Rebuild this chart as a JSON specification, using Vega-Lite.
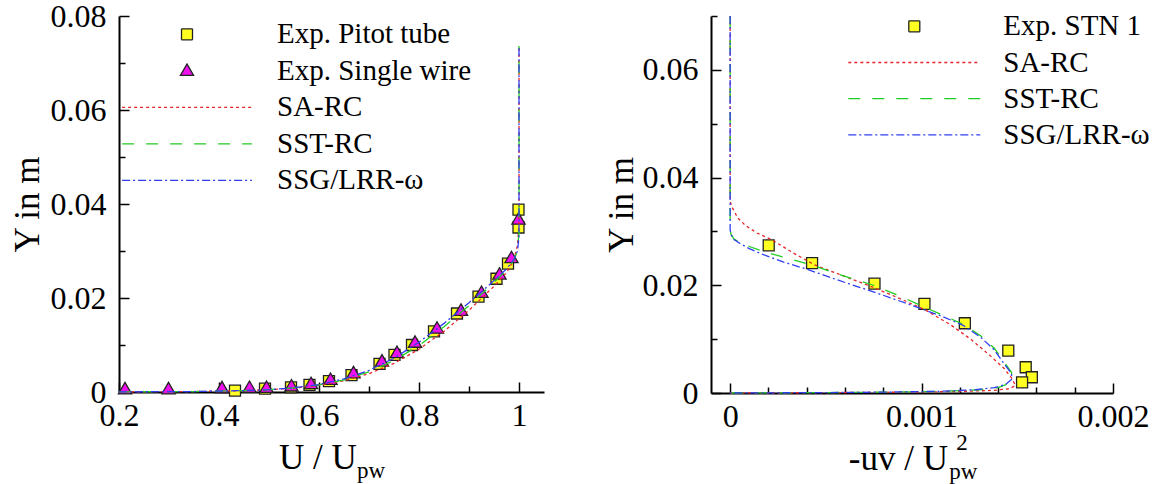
{
  "$schema": "https://vega.github.io/schema/vega-lite/v6.json",
  "background": "white",
  "padding": {"left": 10, "top": 0, "right": 5, "bottom": 0},
  "config": {
    "view": {"stroke": null},
    "axis": {
      "grid": false, "domainColor": "black", "domainWidth": 2, "tickColor": "black", "tickWidth": 1.5,
      "labelFlush": false, "labelOverlap": false, "labelBound": false,
      "labelFont": "Liberation Serif", "labelFontSize": 32, "labelColor": "black",
      "titleFont": "Liberation Serif", "titleFontSize": 35, "titleFontWeight": "normal", "titleColor": "black"
    }
  },
  "datasets": {
    "leftExp": [
      {"series": "Exp. Pitot tube", "u": 0.432, "y": 0.0003},
      {"series": "Exp. Pitot tube", "u": 0.492, "y": 0.0007},
      {"series": "Exp. Pitot tube", "u": 0.544, "y": 0.0010},
      {"series": "Exp. Pitot tube", "u": 0.581, "y": 0.0015},
      {"series": "Exp. Pitot tube", "u": 0.620, "y": 0.0023},
      {"series": "Exp. Pitot tube", "u": 0.665, "y": 0.0036},
      {"series": "Exp. Pitot tube", "u": 0.721, "y": 0.0060},
      {"series": "Exp. Pitot tube", "u": 0.751, "y": 0.0079},
      {"series": "Exp. Pitot tube", "u": 0.786, "y": 0.0100},
      {"series": "Exp. Pitot tube", "u": 0.830, "y": 0.0129},
      {"series": "Exp. Pitot tube", "u": 0.876, "y": 0.0167},
      {"series": "Exp. Pitot tube", "u": 0.919, "y": 0.0203},
      {"series": "Exp. Pitot tube", "u": 0.955, "y": 0.0241},
      {"series": "Exp. Pitot tube", "u": 0.978, "y": 0.0273},
      {"series": "Exp. Pitot tube", "u": 0.999, "y": 0.0350},
      {"series": "Exp. Pitot tube", "u": 0.999, "y": 0.0388},
      {"series": "Exp. Single wire", "u": 0.212, "y": 0.0006},
      {"series": "Exp. Single wire", "u": 0.299, "y": 0.0006},
      {"series": "Exp. Single wire", "u": 0.406, "y": 0.0008},
      {"series": "Exp. Single wire", "u": 0.461, "y": 0.0009},
      {"series": "Exp. Single wire", "u": 0.495, "y": 0.0009},
      {"series": "Exp. Single wire", "u": 0.545, "y": 0.0012},
      {"series": "Exp. Single wire", "u": 0.584, "y": 0.0017},
      {"series": "Exp. Single wire", "u": 0.623, "y": 0.0026},
      {"series": "Exp. Single wire", "u": 0.669, "y": 0.0040},
      {"series": "Exp. Single wire", "u": 0.726, "y": 0.0065},
      {"series": "Exp. Single wire", "u": 0.756, "y": 0.0083},
      {"series": "Exp. Single wire", "u": 0.792, "y": 0.0105},
      {"series": "Exp. Single wire", "u": 0.836, "y": 0.0135},
      {"series": "Exp. Single wire", "u": 0.884, "y": 0.0173},
      {"series": "Exp. Single wire", "u": 0.925, "y": 0.0211},
      {"series": "Exp. Single wire", "u": 0.961, "y": 0.0250},
      {"series": "Exp. Single wire", "u": 0.985, "y": 0.0285},
      {"series": "Exp. Single wire", "u": 0.999, "y": 0.0367}
    ],
    "leftCFD": [
      {"series": "SA-RC", "i": 0, "u": 0.2, "y": 0.00003},
      {"series": "SA-RC", "i": 1, "u": 0.35, "y": 0.0001},
      {"series": "SA-RC", "i": 2, "u": 0.45, "y": 0.0003},
      {"series": "SA-RC", "i": 3, "u": 0.5, "y": 0.0005},
      {"series": "SA-RC", "i": 4, "u": 0.55, "y": 0.0008},
      {"series": "SA-RC", "i": 5, "u": 0.6, "y": 0.0014},
      {"series": "SA-RC", "i": 6, "u": 0.65, "y": 0.0024},
      {"series": "SA-RC", "i": 7, "u": 0.7, "y": 0.0039},
      {"series": "SA-RC", "i": 8, "u": 0.75, "y": 0.0061},
      {"series": "SA-RC", "i": 9, "u": 0.8, "y": 0.0091},
      {"series": "SA-RC", "i": 10, "u": 0.85, "y": 0.0129},
      {"series": "SA-RC", "i": 11, "u": 0.9, "y": 0.0174},
      {"series": "SA-RC", "i": 12, "u": 0.95, "y": 0.0225},
      {"series": "SA-RC", "i": 13, "u": 0.975, "y": 0.0254},
      {"series": "SA-RC", "i": 14, "u": 0.99, "y": 0.0282},
      {"series": "SA-RC", "i": 15, "u": 0.997, "y": 0.0312},
      {"series": "SA-RC", "i": 16, "u": 1.0, "y": 0.0360},
      {"series": "SA-RC", "i": 17, "u": 1.0, "y": 0.0736},
      {"series": "SST-RC", "i": 0, "u": 0.2, "y": 0.00003},
      {"series": "SST-RC", "i": 1, "u": 0.35, "y": 0.0001},
      {"series": "SST-RC", "i": 2, "u": 0.45, "y": 0.0003},
      {"series": "SST-RC", "i": 3, "u": 0.5, "y": 0.0005},
      {"series": "SST-RC", "i": 4, "u": 0.55, "y": 0.0009},
      {"series": "SST-RC", "i": 5, "u": 0.6, "y": 0.0015},
      {"series": "SST-RC", "i": 6, "u": 0.65, "y": 0.0026},
      {"series": "SST-RC", "i": 7, "u": 0.7, "y": 0.0043},
      {"series": "SST-RC", "i": 8, "u": 0.75, "y": 0.0067},
      {"series": "SST-RC", "i": 9, "u": 0.8, "y": 0.0099},
      {"series": "SST-RC", "i": 10, "u": 0.85, "y": 0.0139},
      {"series": "SST-RC", "i": 11, "u": 0.9, "y": 0.0184},
      {"series": "SST-RC", "i": 12, "u": 0.95, "y": 0.0233},
      {"series": "SST-RC", "i": 13, "u": 0.975, "y": 0.0260},
      {"series": "SST-RC", "i": 14, "u": 0.99, "y": 0.0281},
      {"series": "SST-RC", "i": 15, "u": 0.997, "y": 0.0300},
      {"series": "SST-RC", "i": 16, "u": 1.0, "y": 0.0340},
      {"series": "SST-RC", "i": 17, "u": 1.0, "y": 0.0736},
      {"series": "SSG/LRR-ω", "i": 0, "u": 0.2, "y": 0.00003},
      {"series": "SSG/LRR-ω", "i": 1, "u": 0.35, "y": 0.0001},
      {"series": "SSG/LRR-ω", "i": 2, "u": 0.45, "y": 0.0003},
      {"series": "SSG/LRR-ω", "i": 3, "u": 0.5, "y": 0.0005},
      {"series": "SSG/LRR-ω", "i": 4, "u": 0.55, "y": 0.0009},
      {"series": "SSG/LRR-ω", "i": 5, "u": 0.6, "y": 0.0016},
      {"series": "SSG/LRR-ω", "i": 6, "u": 0.65, "y": 0.0028},
      {"series": "SSG/LRR-ω", "i": 7, "u": 0.7, "y": 0.0046},
      {"series": "SSG/LRR-ω", "i": 8, "u": 0.75, "y": 0.0072},
      {"series": "SSG/LRR-ω", "i": 9, "u": 0.8, "y": 0.0106},
      {"series": "SSG/LRR-ω", "i": 10, "u": 0.85, "y": 0.0146},
      {"series": "SSG/LRR-ω", "i": 11, "u": 0.9, "y": 0.0190},
      {"series": "SSG/LRR-ω", "i": 12, "u": 0.95, "y": 0.0237},
      {"series": "SSG/LRR-ω", "i": 13, "u": 0.975, "y": 0.0262},
      {"series": "SSG/LRR-ω", "i": 14, "u": 0.99, "y": 0.0282},
      {"series": "SSG/LRR-ω", "i": 15, "u": 0.997, "y": 0.0300},
      {"series": "SSG/LRR-ω", "i": 16, "u": 1.0, "y": 0.0330},
      {"series": "SSG/LRR-ω", "i": 17, "u": 1.0, "y": 0.0736}
    ],
    "rightExp": [
      {"series": "Exp. STN 1", "uv": 0.0002015, "y": 0.0274},
      {"series": "Exp. STN 1", "uv": 0.000428, "y": 0.0241},
      {"series": "Exp. STN 1", "uv": 0.000754, "y": 0.0203},
      {"series": "Exp. STN 1", "uv": 0.001015, "y": 0.01654},
      {"series": "Exp. STN 1", "uv": 0.001226, "y": 0.01295},
      {"series": "Exp. STN 1", "uv": 0.001453, "y": 0.00788},
      {"series": "Exp. STN 1", "uv": 0.001544, "y": 0.00478},
      {"series": "Exp. STN 1", "uv": 0.001576, "y": 0.00292},
      {"series": "Exp. STN 1", "uv": 0.001525, "y": 0.00199}
    ],
    "rightCFD": [
      {"series": "SA-RC", "i": 0, "uv": 0, "y": 0.07},
      {"series": "SA-RC", "i": 1, "uv": 0, "y": 0.0356},
      {"series": "SA-RC", "i": 2, "uv": 0.00001, "y": 0.0345},
      {"series": "SA-RC", "i": 3, "uv": 0.00004, "y": 0.0325},
      {"series": "SA-RC", "i": 4, "uv": 0.00008, "y": 0.0311},
      {"series": "SA-RC", "i": 5, "uv": 0.00014, "y": 0.0297},
      {"series": "SA-RC", "i": 6, "uv": 0.00022, "y": 0.0284},
      {"series": "SA-RC", "i": 7, "uv": 0.00033, "y": 0.0260},
      {"series": "SA-RC", "i": 8, "uv": 0.00044, "y": 0.0238},
      {"series": "SA-RC", "i": 9, "uv": 0.00058, "y": 0.0219},
      {"series": "SA-RC", "i": 10, "uv": 0.00072, "y": 0.0200},
      {"series": "SA-RC", "i": 11, "uv": 0.00087, "y": 0.0178},
      {"series": "SA-RC", "i": 12, "uv": 0.00102, "y": 0.0154},
      {"series": "SA-RC", "i": 13, "uv": 0.00115, "y": 0.0127},
      {"series": "SA-RC", "i": 14, "uv": 0.00126, "y": 0.0099},
      {"series": "SA-RC", "i": 15, "uv": 0.00135, "y": 0.0072},
      {"series": "SA-RC", "i": 16, "uv": 0.00143, "y": 0.0046},
      {"series": "SA-RC", "i": 17, "uv": 0.00147, "y": 0.0028},
      {"series": "SA-RC", "i": 18, "uv": 0.00149, "y": 0.0014},
      {"series": "SA-RC", "i": 19, "uv": 0.00146, "y": 0.0008},
      {"series": "SA-RC", "i": 20, "uv": 0.00138, "y": 0.0005},
      {"series": "SA-RC", "i": 21, "uv": 0.0012, "y": 0.00028},
      {"series": "SA-RC", "i": 22, "uv": 0.00095, "y": 0.00016},
      {"series": "SA-RC", "i": 23, "uv": 0.0006, "y": 0.00009},
      {"series": "SA-RC", "i": 24, "uv": 0.0003, "y": 0.00004},
      {"series": "SA-RC", "i": 25, "uv": 0, "y": 0},
      {"series": "SST-RC", "i": 0, "uv": 0, "y": 0.07},
      {"series": "SST-RC", "i": 1, "uv": 0, "y": 0.0303},
      {"series": "SST-RC", "i": 2, "uv": 0.000005, "y": 0.0294},
      {"series": "SST-RC", "i": 3, "uv": 0.00002, "y": 0.0286},
      {"series": "SST-RC", "i": 4, "uv": 0.00005, "y": 0.0280},
      {"series": "SST-RC", "i": 5, "uv": 0.0001, "y": 0.0272},
      {"series": "SST-RC", "i": 6, "uv": 0.00018, "y": 0.0262},
      {"series": "SST-RC", "i": 7, "uv": 0.0003, "y": 0.0250},
      {"series": "SST-RC", "i": 8, "uv": 0.00043, "y": 0.0237},
      {"series": "SST-RC", "i": 9, "uv": 0.00058, "y": 0.0219},
      {"series": "SST-RC", "i": 10, "uv": 0.00074, "y": 0.0201},
      {"series": "SST-RC", "i": 11, "uv": 0.00088, "y": 0.0181},
      {"series": "SST-RC", "i": 12, "uv": 0.001, "y": 0.0162},
      {"series": "SST-RC", "i": 13, "uv": 0.00112, "y": 0.0143},
      {"series": "SST-RC", "i": 14, "uv": 0.00122, "y": 0.0127},
      {"series": "SST-RC", "i": 15, "uv": 0.00131, "y": 0.0106},
      {"series": "SST-RC", "i": 16, "uv": 0.00138, "y": 0.0083},
      {"series": "SST-RC", "i": 17, "uv": 0.00143, "y": 0.0058},
      {"series": "SST-RC", "i": 18, "uv": 0.00147, "y": 0.0038},
      {"series": "SST-RC", "i": 19, "uv": 0.00147, "y": 0.0026},
      {"series": "SST-RC", "i": 20, "uv": 0.00145, "y": 0.0017},
      {"series": "SST-RC", "i": 21, "uv": 0.0014, "y": 0.0010},
      {"series": "SST-RC", "i": 22, "uv": 0.0013, "y": 0.0006},
      {"series": "SST-RC", "i": 23, "uv": 0.0011, "y": 0.0003},
      {"series": "SST-RC", "i": 24, "uv": 0.0008, "y": 0.00015},
      {"series": "SST-RC", "i": 25, "uv": 0.0005, "y": 0.00007},
      {"series": "SST-RC", "i": 26, "uv": 0.0002, "y": 0.00003},
      {"series": "SST-RC", "i": 27, "uv": 0, "y": 0},
      {"series": "SSG/LRR-ω", "i": 0, "uv": 0, "y": 0.07},
      {"series": "SSG/LRR-ω", "i": 1, "uv": 0, "y": 0.0303},
      {"series": "SSG/LRR-ω", "i": 2, "uv": 0.000005, "y": 0.0294},
      {"series": "SSG/LRR-ω", "i": 3, "uv": 0.00002, "y": 0.0285},
      {"series": "SSG/LRR-ω", "i": 4, "uv": 0.00005, "y": 0.0278},
      {"series": "SSG/LRR-ω", "i": 5, "uv": 0.0001, "y": 0.0268},
      {"series": "SSG/LRR-ω", "i": 6, "uv": 0.000165, "y": 0.0258},
      {"series": "SSG/LRR-ω", "i": 7, "uv": 0.00028, "y": 0.0243},
      {"series": "SSG/LRR-ω", "i": 8, "uv": 0.0004, "y": 0.0230},
      {"series": "SSG/LRR-ω", "i": 9, "uv": 0.00056, "y": 0.0210},
      {"series": "SSG/LRR-ω", "i": 10, "uv": 0.00073, "y": 0.0190},
      {"series": "SSG/LRR-ω", "i": 11, "uv": 0.00086, "y": 0.0174},
      {"series": "SSG/LRR-ω", "i": 12, "uv": 0.00098, "y": 0.0159},
      {"series": "SSG/LRR-ω", "i": 13, "uv": 0.00111, "y": 0.0142},
      {"series": "SSG/LRR-ω", "i": 14, "uv": 0.00122, "y": 0.0125},
      {"series": "SSG/LRR-ω", "i": 15, "uv": 0.00131, "y": 0.0103},
      {"series": "SSG/LRR-ω", "i": 16, "uv": 0.00138, "y": 0.0080},
      {"series": "SSG/LRR-ω", "i": 17, "uv": 0.00143, "y": 0.0055},
      {"series": "SSG/LRR-ω", "i": 18, "uv": 0.00147, "y": 0.0036},
      {"series": "SSG/LRR-ω", "i": 19, "uv": 0.00147, "y": 0.0025},
      {"series": "SSG/LRR-ω", "i": 20, "uv": 0.00144, "y": 0.0016},
      {"series": "SSG/LRR-ω", "i": 21, "uv": 0.00138, "y": 0.0010},
      {"series": "SSG/LRR-ω", "i": 22, "uv": 0.00128, "y": 0.0006},
      {"series": "SSG/LRR-ω", "i": 23, "uv": 0.0011, "y": 0.00032},
      {"series": "SSG/LRR-ω", "i": 24, "uv": 0.0008, "y": 0.00016},
      {"series": "SSG/LRR-ω", "i": 25, "uv": 0.0005, "y": 0.00008},
      {"series": "SSG/LRR-ω", "i": 26, "uv": 0.0002, "y": 0.00003},
      {"series": "SSG/LRR-ω", "i": 27, "uv": 0, "y": 0}
    ]
  },
  "spacing": 60,
  "resolve": {"scale": {"fill": "independent", "stroke": "independent", "shape": "independent", "strokeDash": "independent"}},
  "hconcat": [
    {
      "width": 425,
      "height": 376,
      "layer": [
        {
          "data": {"name": "leftExp"},
          "mark": {"type": "point", "opacity": 1, "size": 121, "strokeWidth": 1.3},
          "encoding": {
            "x": {"field": "u", "type": "quantitative", "scale": {"domain": [0.2, 1.05], "nice": false, "zero": false},
              "axis": {
                "values": [0.2, 0.25, 0.3, 0.35, 0.4, 0.45, 0.5, 0.55, 0.6, 0.65, 0.7, 0.75, 0.8, 0.85, 0.9, 0.95, 1, 1.05],
                "format": "~g",
                "labelExpr": "abs(datum.value*5-round(datum.value*5))<1e-6 ? datum.label : ''",
                "tickSize": {"condition": {"test": "abs(datum.value*5-round(datum.value*5))<1e-6", "value": -10}, "value": -6},
                "labelPadding": 18,
                "title": "U / U", "titleAlign": "left", "titleX": 159.5, "titlePadding": 5.7,
                "encode": {"labels": {"update": {"font": {"value": "Liberation Serif"}}}, "title": {"update": {"font": {"value": "Liberation Serif"}}}}
              }},
            "y": {"field": "y", "type": "quantitative", "scale": {"domain": [0, 0.08], "nice": false},
              "axis": {
                "values": [0, 0.005, 0.01, 0.015, 0.02, 0.025, 0.03, 0.035, 0.04, 0.045, 0.05, 0.055, 0.06, 0.065, 0.07, 0.075, 0.08],
                "format": "~g",
                "labelExpr": "abs(datum.value*50-round(datum.value*50))<1e-6 ? datum.label : ''",
                "tickSize": {"condition": {"test": "abs(datum.value*50-round(datum.value*50))<1e-6", "value": -10}, "value": -6},
                "labelPadding": 23,
                "title": "Y in m", "titlePadding": 5,
                "encode": {"labels": {"update": {"font": {"value": "Liberation Serif"}}}, "title": {"update": {"font": {"value": "Liberation Serif"}}}}
              }},
            "fill": {"field": "series", "type": "nominal",
              "scale": {"domain": ["Exp. Pitot tube", "Exp. Single wire", "SA-RC", "SST-RC", "SSG/LRR-ω"], "range": ["#ffff22", "#ee11ee", "transparent", "transparent", "transparent"]},
              "legend": {"title": null, "orient": "none", "legendX": 53.5, "legendY": 3.8, "padding": 0, "symbolSize": 121, "symbolStrokeWidth": 1.3, "symbolFillColor": "transparent", "labelFont": "Liberation Serif", "labelFontSize": 29, "labelColor": "black", "labelOffset": 75.5, "rowPadding": 6.5, "labelLimit": 400}},
            "shape": {"field": "series", "type": "nominal",
              "scale": {"domain": ["Exp. Pitot tube", "Exp. Single wire", "SA-RC", "SST-RC", "SSG/LRR-ω"], "range": ["M-1,-1H1V1H-1Z", "M0,-1.24L1.2,0.84L-1.2,0.84Z", "M-11.8,0H11.8", "M-11.8,0H11.8", "M-11.8,0H11.8"]},
              "legend": {"title": null, "orient": "none", "legendX": 53.5, "legendY": 3.8, "padding": 0, "symbolSize": 121, "symbolStrokeWidth": 1.3, "symbolFillColor": "transparent", "labelFont": "Liberation Serif", "labelFontSize": 29, "labelColor": "black", "labelOffset": 75.5, "rowPadding": 6.5, "labelLimit": 400}},
            "stroke": {"field": "series", "type": "nominal",
              "scale": {"domain": ["Exp. Pitot tube", "Exp. Single wire", "SA-RC", "SST-RC", "SSG/LRR-ω"], "range": ["#222222", "#222222", "#e8262a", "#22cc22", "#2f3fef"]},
              "legend": {"title": null, "orient": "none", "legendX": 53.5, "legendY": 3.8, "padding": 0, "symbolSize": 121, "symbolStrokeWidth": 1.3, "symbolFillColor": "transparent", "labelFont": "Liberation Serif", "labelFontSize": 29, "labelColor": "black", "labelOffset": 75.5, "rowPadding": 6.5, "labelLimit": 400}}
          }
        },
        {
          "data": {"name": "leftCFD"},
          "mark": {"type": "line", "strokeWidth": 1.3},
          "encoding": {
            "x": {"field": "u", "type": "quantitative"},
            "y": {"field": "y", "type": "quantitative"},
            "order": {"field": "i", "type": "quantitative"},
            "stroke": {"field": "series", "type": "nominal",
              "scale": {"domain": ["Exp. Pitot tube", "Exp. Single wire", "SA-RC", "SST-RC", "SSG/LRR-ω"], "range": ["#222222", "#222222", "#e8262a", "#22cc22", "#2f3fef"]},
              "legend": {"title": null, "orient": "none", "legendX": 53.5, "legendY": 3.8, "padding": 0, "symbolSize": 121, "symbolStrokeWidth": 1.3, "symbolFillColor": "transparent", "labelFont": "Liberation Serif", "labelFontSize": 29, "labelColor": "black", "labelOffset": 75.5, "rowPadding": 6.5, "labelLimit": 400}},
            "strokeDash": {"field": "series", "type": "nominal",
              "scale": {"domain": ["Exp. Pitot tube", "Exp. Single wire", "SA-RC", "SST-RC", "SSG/LRR-ω"], "range": [[1, 0], [1, 0], [3, 3], [12, 12], [8, 3, 2, 3]]},
              "legend": {"title": null, "orient": "none", "legendX": 53.5, "legendY": 3.8, "padding": 0, "symbolSize": 121, "symbolStrokeWidth": 1.3, "symbolFillColor": "transparent", "labelFont": "Liberation Serif", "labelFontSize": 29, "labelColor": "black", "labelOffset": 75.5, "rowPadding": 6.5, "labelLimit": 400}}
          }
        },
        {
          "data": {"values": [{"sub": "pw"}]},
          "mark": {"type": "text", "font": "Liberation Serif", "fontSize": 23, "align": "left", "baseline": "alphabetic", "color": "black"},
          "encoding": {
            "x": {"datum": 0.676, "type": "quantitative"},
            "y": {"datum": -0.01836, "type": "quantitative"},
            "text": {"field": "sub"}
          }
        }
      ]
    },
    {
      "width": 402,
      "height": 377,
      "layer": [
        {
          "data": {"name": "rightExp"},
          "mark": {"type": "point", "opacity": 1, "size": 121, "strokeWidth": 1.3},
          "encoding": {
            "x": {"field": "uv", "type": "quantitative", "scale": {"domain": [-0.0001, 0.002], "nice": false, "zero": false},
              "axis": {
                "values": [0, 0.0002, 0.0004, 0.0006, 0.0008, 0.001, 0.0012, 0.0014, 0.0016, 0.0018, 0.002],
                "format": "~g",
                "labelExpr": "abs(datum.value*1000-round(datum.value*1000))<1e-6 ? datum.label : ''",
                "tickSize": {"condition": {"test": "abs(datum.value*1000-round(datum.value*1000))<1e-6", "value": -10}, "value": -6},
                "labelPadding": 18,
                "title": "-uv / U", "titleAlign": "left", "titleX": 137.3, "titlePadding": 5.7,
                "encode": {"labels": {"update": {"font": {"value": "Liberation Serif"}}}, "title": {"update": {"font": {"value": "Liberation Serif"}}}}
              }},
            "y": {"field": "y", "type": "quantitative", "scale": {"domain": [0, 0.07], "nice": false},
              "axis": {
                "values": [0, 0.005, 0.01, 0.015, 0.02, 0.025, 0.03, 0.035, 0.04, 0.045, 0.05, 0.055, 0.06, 0.065, 0.07],
                "format": "~g",
                "labelExpr": "abs(datum.value*50-round(datum.value*50))<1e-6 ? datum.label : ''",
                "tickSize": {"condition": {"test": "abs(datum.value*50-round(datum.value*50))<1e-6", "value": -10}, "value": -6},
                "labelPadding": 23,
                "title": "Y in m", "titlePadding": 3,
                "encode": {"labels": {"update": {"font": {"value": "Liberation Serif"}}}, "title": {"update": {"font": {"value": "Liberation Serif"}}}}
              }},
            "fill": {"field": "series", "type": "nominal",
              "scale": {"domain": ["Exp. STN 1", "SA-RC", "SST-RC", "SSG/LRR-ω"], "range": ["#ffff22", "transparent", "transparent", "transparent"]},
              "legend": {"title": null, "orient": "none", "legendX": 188.8, "legendY": -4.2, "padding": 0, "symbolSize": 121, "symbolStrokeWidth": 1.3, "symbolFillColor": "transparent", "labelFont": "Liberation Serif", "labelFontSize": 29, "labelColor": "black", "labelOffset": 74.5, "rowPadding": 6.2, "labelLimit": 400}},
            "shape": {"field": "series", "type": "nominal",
              "scale": {"domain": ["Exp. STN 1", "SA-RC", "SST-RC", "SSG/LRR-ω"], "range": ["M-1,-1H1V1H-1Z", "M-12,0H12", "M-12,0H12", "M-12,0H12"]},
              "legend": {"title": null, "orient": "none", "legendX": 188.8, "legendY": -4.2, "padding": 0, "symbolSize": 121, "symbolStrokeWidth": 1.3, "symbolFillColor": "transparent", "labelFont": "Liberation Serif", "labelFontSize": 29, "labelColor": "black", "labelOffset": 74.5, "rowPadding": 6.2, "labelLimit": 400}},
            "stroke": {"field": "series", "type": "nominal",
              "scale": {"domain": ["Exp. STN 1", "SA-RC", "SST-RC", "SSG/LRR-ω"], "range": ["#222222", "#e8262a", "#22cc22", "#2f3fef"]},
              "legend": {"title": null, "orient": "none", "legendX": 188.8, "legendY": -4.2, "padding": 0, "symbolSize": 121, "symbolStrokeWidth": 1.3, "symbolFillColor": "transparent", "labelFont": "Liberation Serif", "labelFontSize": 29, "labelColor": "black", "labelOffset": 74.5, "rowPadding": 6.2, "labelLimit": 400}}
          }
        },
        {
          "data": {"name": "rightCFD"},
          "mark": {"type": "line", "strokeWidth": 1.3},
          "encoding": {
            "x": {"field": "uv", "type": "quantitative"},
            "y": {"field": "y", "type": "quantitative"},
            "order": {"field": "i", "type": "quantitative"},
            "stroke": {"field": "series", "type": "nominal",
              "scale": {"domain": ["Exp. STN 1", "SA-RC", "SST-RC", "SSG/LRR-ω"], "range": ["#222222", "#e8262a", "#22cc22", "#2f3fef"]},
              "legend": {"title": null, "orient": "none", "legendX": 188.8, "legendY": -4.2, "padding": 0, "symbolSize": 121, "symbolStrokeWidth": 1.3, "symbolFillColor": "transparent", "labelFont": "Liberation Serif", "labelFontSize": 29, "labelColor": "black", "labelOffset": 74.5, "rowPadding": 6.2, "labelLimit": 400}},
            "strokeDash": {"field": "series", "type": "nominal",
              "scale": {"domain": ["Exp. STN 1", "SA-RC", "SST-RC", "SSG/LRR-ω"], "range": [[1, 0], [3, 3], [12, 12], [8, 3, 2, 3]]},
              "legend": {"title": null, "orient": "none", "legendX": 188.8, "legendY": -4.2, "padding": 0, "symbolSize": 121, "symbolStrokeWidth": 1.3, "symbolFillColor": "transparent", "labelFont": "Liberation Serif", "labelFontSize": 29, "labelColor": "black", "labelOffset": 74.5, "rowPadding": 6.2, "labelLimit": 400}}
          }
        },
        {
          "data": {"values": [{"sup": "2"}]},
          "mark": {"type": "text", "font": "Liberation Serif", "fontSize": 23, "align": "left", "baseline": "alphabetic", "color": "black"},
          "encoding": {
            "x": {"datum": 0.001181, "type": "quantitative"},
            "y": {"datum": -0.01064, "type": "quantitative"},
            "text": {"field": "sup"}
          }
        },
        {
          "data": {"values": [{"sub": "pw"}]},
          "mark": {"type": "text", "font": "Liberation Serif", "fontSize": 23, "align": "left", "baseline": "alphabetic", "color": "black"},
          "encoding": {
            "x": {"datum": 0.001145, "type": "quantitative"},
            "y": {"datum": -0.01602, "type": "quantitative"},
            "text": {"field": "sub"}
          }
        }
      ]
    }
  ]
}
